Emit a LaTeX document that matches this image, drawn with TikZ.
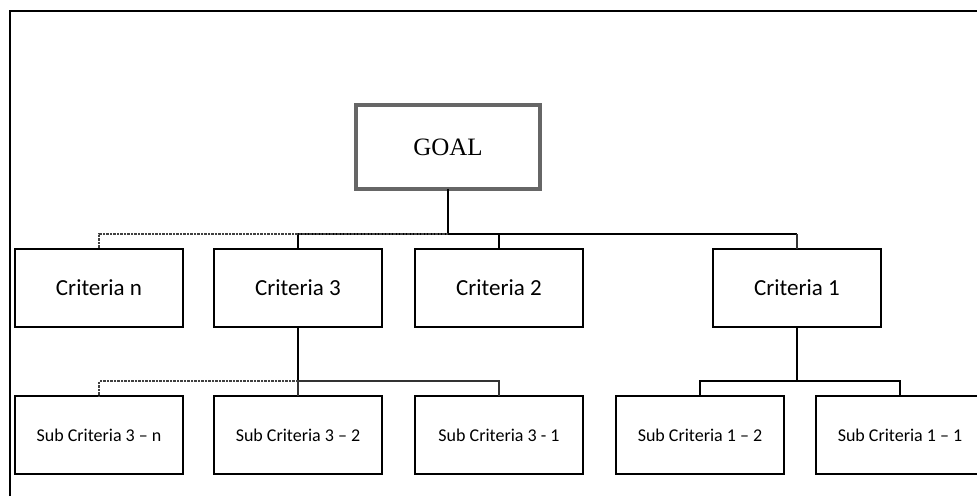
\documentclass[tikz,border=0pt]{standalone}
\usepackage{fontspec}
\setmainfont{Liberation Serif}
\newfontfamily\critfont{Carlito}
\usepackage{xcolor}
\usetikzlibrary{positioning}

\begin{document}
\begin{tikzpicture}[
		x=1pt, y=1pt,
		critbox/.style={
			rectangle,
			draw=black,
			line width=2.5pt,
			outer sep=0pt,
			minimum width=168pt,
			minimum height=78pt,
			font=\critfont\fontsize{23}{27}\selectfont
		},
		subbox/.style={
			critbox,
			font=\critfont\fontsize{18}{22}\selectfont
		},
		goalbox/.style={
			rectangle,
			draw=black!60,
			line width=3.5pt,
			outer sep=0pt,
			minimum width=184pt,
			minimum height=84pt,
			font=\fontsize{25}{30}\selectfont
		},
		link/.style={
			draw=black,
			line width=2.5pt
		},
		thinlink/.style={
			draw=black!80,
			line width=1.8pt
		},
		dashlink/.style={
			draw=black!75,
			line width=1.8pt,
			dash pattern=on 2.5pt off 1pt
		}
		]
		
		\useasboundingbox (0,0) rectangle (977,496);
		
		% page frame
		\draw[line width=2.5pt] (10,0) -- (10,485) -- (977,485);
		
		\node[goalbox] (goal) at (448,349) {GOAL};
		
		\node[critbox] (crit3) at (298,208) {Criteria 3};
		\node[critbox, left=31pt of crit3] (critn) {Criteria n};
		\node[critbox, right=33pt of crit3] (crit2) {Criteria 2};
		\node[critbox] (crit1) at (797,208) {Criteria 1};
		
		\node[subbox, below=69pt of critn] (sub3n) {Sub Criteria 3 – n};
		\node[subbox, below=69pt of crit3] (sub32) {Sub Criteria 3 – 2};
		\node[subbox, below=69pt of crit2] (sub31) {Sub Criteria 3 - 1};
		\node[subbox] (sub12) at (700,61) {Sub Criteria 1 – 2};
		\node[subbox, right=32pt of sub12] (sub11) {Sub Criteria 1 – 1};
		
		\coordinate (bus) at (0,262);
		\coordinate (subbus) at (0,115);
		
		% goal to criteria
		\draw[link] (goal.south) -- (goal.south |- bus);
		\draw[link] (crit3.north) -- (crit3.north |- bus) -- (crit1.north |- bus);
		\draw[thinlink] (crit1.north |- bus) -- (crit1.north);
		\draw[link] (crit2.north) -- (crit2.north |- bus);
		\draw[dashlink] (goal.south |- bus) -- (critn.north |- bus) -- (critn.north);
		
		% criteria 3 to sub criteria
		\draw[link] (crit3.south) -- (crit3.south |- subbus);
		\draw[thinlink] (sub32.north) -- (sub32.north |- subbus) -- (sub31.north |- subbus) -- (sub31.north);
		\draw[dashlink] (sub32.north |- subbus) -- (sub3n.north |- subbus) -- (sub3n.north);
		
		% criteria 1 to sub criteria
		\draw[link] (crit1.south) -- (crit1.south |- subbus);
		\draw[link] (sub12.north) -- (sub12.north |- subbus) -- (sub11.north |- subbus) -- (sub11.north);
		
	\end{tikzpicture}
\end{document}
